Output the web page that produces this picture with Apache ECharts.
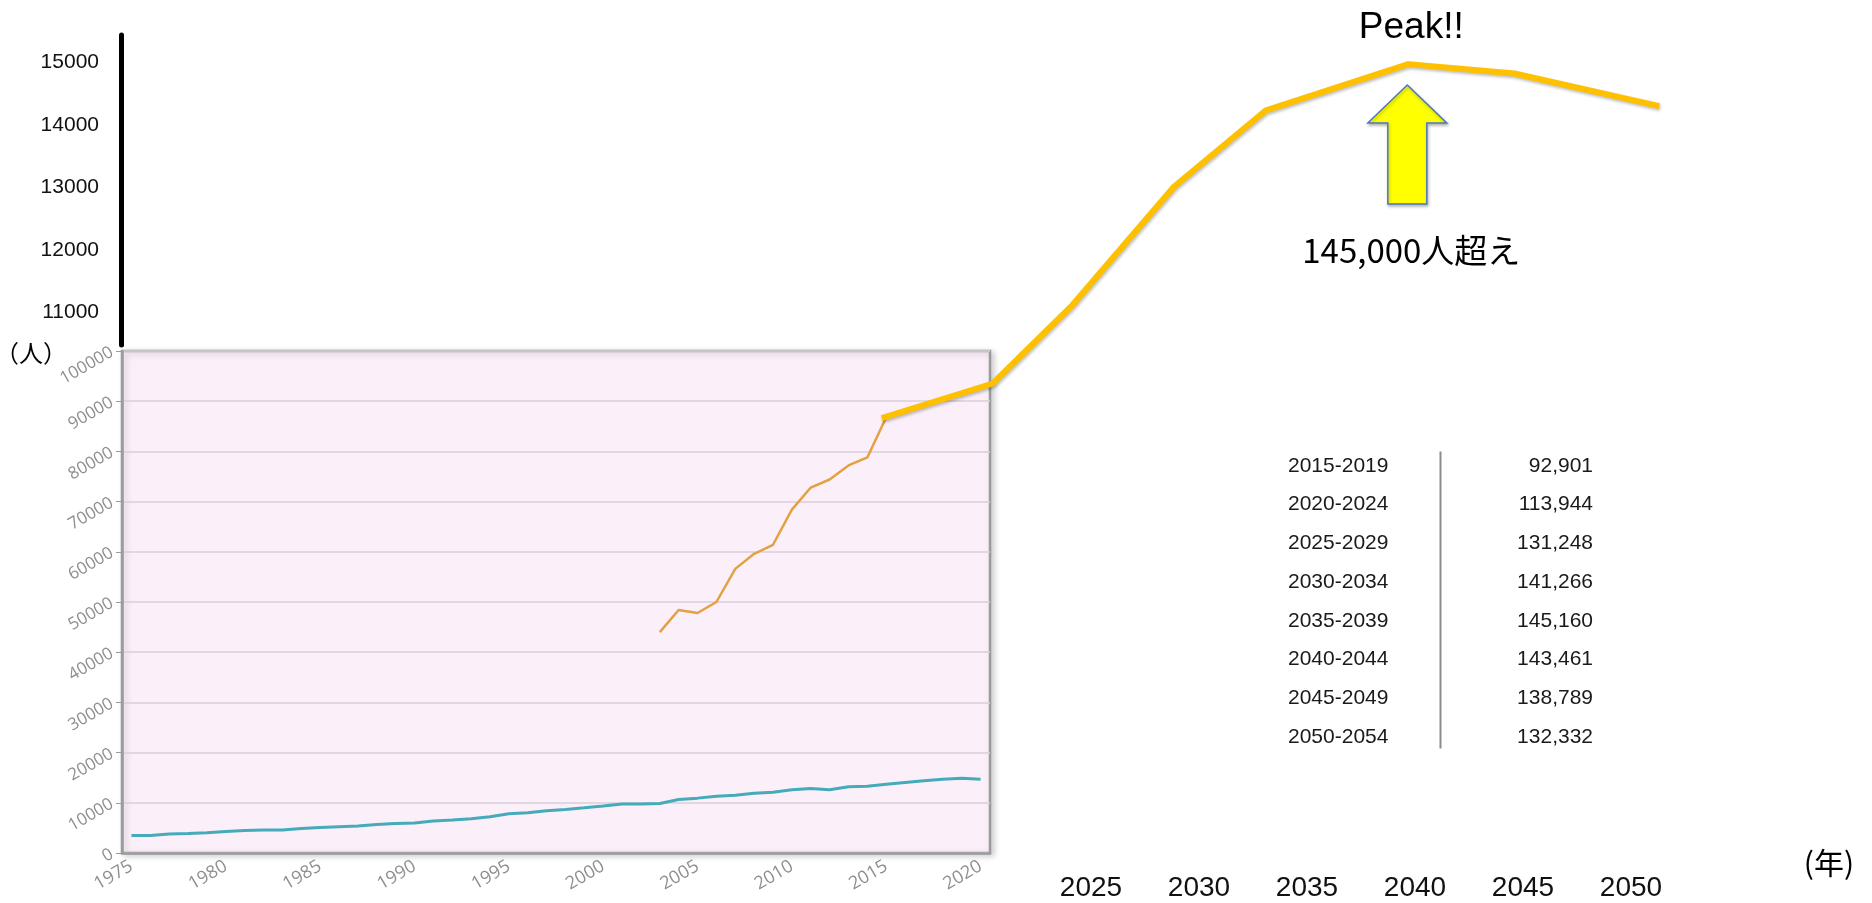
<!DOCTYPE html>
<html>
<head>
<meta charset="utf-8">
<script src="https://cdn.jsdelivr.net/npm/echarts@6/dist/echarts.min.js"></script>
<style>
  html, body { margin: 0; padding: 0; background: #fff; }
  #main { width: 1872px; height: 903px; }
</style>
</head>
<body>
<div id="main"></div>
<script>
  // 実績 (1975-2020)
  var years = ['1975', '1976', '1977', '1978', '1979', '1980', '1981', '1982', '1983', '1984',
    '1985', '1986', '1987', '1988', '1989', '1990', '1991', '1992', '1993', '1994',
    '1995', '1996', '1997', '1998', '1999', '2000', '2001', '2002', '2003', '2004',
    '2005', '2006', '2007', '2008', '2009', '2010', '2011', '2012', '2013', '2014',
    '2015', '2016', '2017', '2018', '2019', '2020'];
  var tealValues = [3500, 3500, 3780, 3900, 4040, 4300, 4500, 4570, 4570, 4900,
    5100, 5230, 5360, 5700, 5890, 5960, 6360, 6560, 6820, 7220,
    7810, 8010, 8410, 8680, 9000, 9340, 9740, 9740, 9870, 10660,
    10930, 11320, 11520, 11920, 12120, 12580, 12850, 12580, 13180, 13310,
    13710, 14040, 14370, 14700, 14900, 14700];
  var orangeYears = ['2003', '2004', '2005', '2006', '2007', '2008', '2009', '2010', '2011', '2012', '2013', '2014', '2015'];
  var orangeValues = [44000, 48400, 47800, 50000, 56600, 59600, 61400, 68400, 72800, 74400, 77200, 78800, 86800];

  // 予測 (外側の軸で読み取った値)
  var yellowYears = [2015.31, 2020.45, 2024.15, 2028.84, 2033.10, 2039.69, 2044.60, 2051.31];
  var yellowValues = [9310, 9864, 11123, 13011, 14235, 14974, 14824, 14302];
  var peakIndex = 5;

  // 外側の目盛
  var outerYTicks = [11000, 12000, 13000, 14000, 15000];
  var outerXTicks = [2025, 2030, 2035, 2040, 2045, 2050];

  // 表
  var tablePeriods = ['2015-2019', '2020-2024', '2025-2029', '2030-2034', '2035-2039', '2040-2044', '2045-2049', '2050-2054'];
  var tableValues = ['92,901', '113,944', '131,248', '141,266', '145,160', '143,461', '138,789', '132,332'];

  var myChart = echarts.init(document.getElementById('main'));

  var grayAxis = '#9b9b9b';
  var latin = '"Liberation Sans", "Noto Sans CJK JP", sans-serif';
  var cjk = '"Noto Sans CJK JP", "Liberation Sans", sans-serif';

  var option = {
    animation: false,
    backgroundColor: '#fff',
    grid: [
      // 0: ピンクの実績グラフ
      {
        left: 122, top: 351, width: 868, height: 502,
        show: true, backgroundColor: '#fbf0fa',
        borderColor: grayAxis, borderWidth: 2.5,
        shadowColor: 'rgba(0,0,0,0.18)', shadowBlur: 6, shadowOffsetX: 3, shadowOffsetY: 2,
        outerBoundsMode: 'none'
      },
      // 1: 黒い縦線
      { left: 121, top: 35, width: 1, height: 310, outerBoundsMode: 'none' },
      // 2: 外側のY目盛
      { left: 121, top: 0, width: 1, height: 437.5, outerBoundsMode: 'none' },
      // 3: 予測の線
      { left: 551, top: 0, width: 1296, height: 437.5, outerBoundsMode: 'none' }
    ],
    xAxis: [
      {
        gridIndex: 0, type: 'category', data: years, boundaryGap: true,
        axisLine: { lineStyle: { color: grayAxis, width: 2.5 } },
        axisTick: { interval: 0, length: 6, lineStyle: { color: grayAxis } },
        axisLabel: { interval: 4, rotate: 30, color: '#8e8e8e', fontSize: 18, margin: 12, fontFamily: '"Open Sans", sans-serif' },
        splitLine: { show: false }
      },
      { gridIndex: 1, type: 'value', show: false },
      { gridIndex: 2, type: 'value', show: false },
      {
        gridIndex: 3, type: 'value', min: 2000, max: 2060, interval: 5,
        offset: 428.5,
        axisLine: { show: false }, axisTick: { show: false }, splitLine: { show: false },
        axisLabel: {
          margin: 8, fontSize: 28, color: '#111', fontFamily: latin,
          showMinLabel: false, showMaxLabel: false,
          formatter: function (v) { return outerXTicks.indexOf(v) >= 0 ? String(v) : ''; }
        }
      }
    ],
    yAxis: [
      {
        gridIndex: 0, type: 'value', min: 0, max: 100000, interval: 10000,
        axisLine: { show: true, lineStyle: { color: grayAxis, width: 2.5 } },
        axisTick: { show: true, length: 6, lineStyle: { color: grayAxis } },
        axisLabel: {
          rotate: 30, color: '#8e8e8e', fontSize: 17, margin: 10, fontFamily: '"Open Sans", sans-serif',
          formatter: function (v) { return String(v); }
        },
        splitLine: { lineStyle: { color: '#d9cfd8', width: 1.5 } }
      },
      {
        gridIndex: 1, type: 'value', min: 0, max: 1,
        axisLine: { show: true, lineStyle: { color: '#000', width: 5 } },
        axisTick: { show: false }, axisLabel: { show: false }, splitLine: { show: false }
      },
      {
        gridIndex: 2, type: 'value', min: 9000, max: 16000, interval: 1000,
        axisLine: { show: false }, axisTick: { show: false }, splitLine: { show: false },
        axisLabel: {
          margin: 22, fontSize: 21, color: '#111', fontFamily: latin,
          formatter: function (v) { return outerYTicks.indexOf(v) >= 0 ? String(v) : ''; }
        }
      },
      { gridIndex: 3, type: 'value', min: 9000, max: 16000, show: false }
    ],
    series: [
      {
        type: 'line', xAxisIndex: 0, yAxisIndex: 0, data: tealValues,
        symbol: 'none', lineStyle: { color: '#45aab9', width: 3 }, z: 3
      },
      {
        type: 'line', xAxisIndex: 0, yAxisIndex: 0,
        data: orangeYears.map(function (y, i) { return [y, orangeValues[i]]; }),
        symbol: 'none', lineStyle: { color: '#e3a141', width: 2.5 }, z: 3
      },
      {
        type: 'line', xAxisIndex: 3, yAxisIndex: 3,
        data: yellowYears.map(function (y, i) { return [y, yellowValues[i]]; }),
        symbol: 'none',
        lineStyle: {
          color: '#ffc000', width: 6,
          shadowColor: 'rgba(0,0,0,0.25)', shadowBlur: 3, shadowOffsetX: 1, shadowOffsetY: 2
        },
        z: 5
      }
    ]
  };

  myChart.setOption(option);

  // 注記（矢印・テキスト・表）
  var peak = myChart.convertToPixel({ gridIndex: 3 }, [yellowYears[peakIndex], yellowValues[peakIndex]]);
  var ax = peak[0] - 1;
  var graphics = [
    {
      type: 'polygon', z: 10,
      shape: {
        points: [[ax, 85], [ax + 39.5, 123], [ax + 19.5, 123], [ax + 19.5, 204],
                 [ax - 19.5, 204], [ax - 19.5, 123], [ax - 39.5, 123]]
      },
      style: { fill: '#ffff00', stroke: '#4a78c0', lineWidth: 1.5,
               shadowColor: 'rgba(0,0,0,0.25)', shadowBlur: 3, shadowOffsetX: 1, shadowOffsetY: 2 }
    },
    { type: 'text', x: ax + 4, y: 28, z: 10,
      style: { text: 'Peak!!', fontSize: 37, fontFamily: latin, fill: '#000', align: 'center', verticalAlign: 'middle' } },
    { type: 'text', x: ax + 4, y: 250, z: 10,
      style: { text: '145,000人超え', fontSize: 33, fontFamily: cjk, fill: '#000', align: 'center', verticalAlign: 'middle' } },
    { type: 'text', x: 31, y: 353, z: 10,
      style: { text: '（人）', fontSize: 24, fontFamily: cjk, fill: '#000', align: 'center', verticalAlign: 'middle' } },
    { type: 'text', x: 1829, y: 863, z: 10,
      style: { text: '(年)', fontSize: 30, fontFamily: cjk, fill: '#000', align: 'center', verticalAlign: 'middle' } },
    { type: 'line', z: 10,
      shape: { x1: 1440.5, y1: 451.5, x2: 1440.5, y2: 748.5 },
      style: { stroke: '#8c8c8c', lineWidth: 2 } }
  ];
  var rowTop = 466, rowGap = 38.7;
  tablePeriods.forEach(function (p, i) {
    graphics.push({ type: 'text', x: 1288, y: rowTop + i * rowGap, z: 10,
      style: { text: p, fontSize: 21, fontFamily: latin, fill: '#1a1a1a', align: 'left', verticalAlign: 'middle' } });
    graphics.push({ type: 'text', x: 1593, y: rowTop + i * rowGap, z: 10,
      style: { text: tableValues[i], fontSize: 21, fontFamily: latin, fill: '#1a1a1a', align: 'right', verticalAlign: 'middle' } });
  });
  myChart.setOption({ graphic: graphics });

  window.addEventListener('resize', function () { myChart.resize() });
</script>
</body>
</html>
